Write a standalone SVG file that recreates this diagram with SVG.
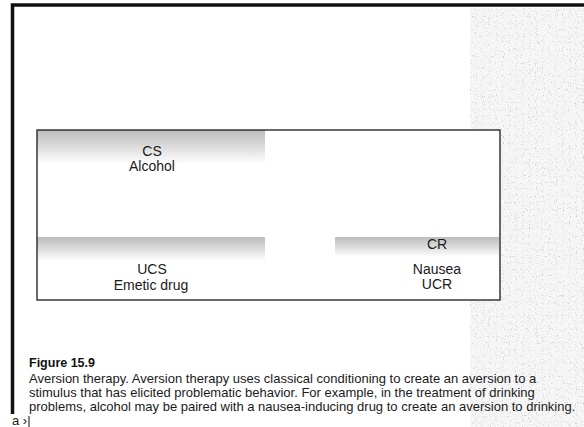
<svg xmlns="http://www.w3.org/2000/svg" width="584" height="427" viewBox="0 0 584 427">
  <style>
    .lbl { font-family: "Liberation Sans", Arial, sans-serif; font-size: 14px; fill: #1a1a1a; text-anchor: middle; }
    .cap { font-family: "Liberation Sans", Arial, sans-serif; font-size: 13px; fill: #1a1a1a; }
    .capb { font-family: "Liberation Sans", Arial, sans-serif; font-size: 12.5px; font-weight: bold; fill: #111; }
  </style>
  <defs>
    <linearGradient id="bandFade" x1="0" y1="0" x2="0" y2="1">
      <stop offset="0" stop-color="#bcbcbc"/>
      <stop offset="0.55" stop-color="#e0e0e0"/>
      <stop offset="1" stop-color="#ffffff"/>
    </linearGradient>
    <filter id="grain" x="0" y="0" width="100%" height="100%">
      <feTurbulence type="fractalNoise" baseFrequency="0.85" numOctaves="1" seed="4" result="n"/>
      <feColorMatrix in="n" type="matrix" values="0 0 0 0 0.5  0 0 0 0 0.5  0 0 0 0 0.5  4 0 0 0 -2.35"/>
    </filter>
  </defs>

  <!-- page -->
  <rect width="584" height="427" fill="#ffffff"/>
  <rect x="470" y="8" width="114" height="419" fill="#f6f6f6"/>
  <rect x="470" y="8" width="114" height="419" filter="url(#grain)"/>

  <!-- page frame -->
  <path d="M12.5 414 V5 H584" fill="none" stroke="#111" stroke-width="3.5"/>

  <!-- diagram panel -->
  <g id="panel">
    <rect x="37" y="130" width="463" height="170" fill="#ffffff"/>
    <rect x="37" y="130" width="228" height="34" fill="url(#bandFade)"/>
    <rect x="37" y="237" width="228" height="24" fill="url(#bandFade)"/>
    <rect x="335" y="237" width="164" height="20" fill="url(#bandFade)"/>
    <rect x="37" y="130" width="463" height="170" fill="none" stroke="#2a2a2a" stroke-width="1.4"/>
  </g>

  <g id="cs">
    <text class="lbl" x="152" y="156">CS</text>
    <text class="lbl" x="152" y="171">Alcohol</text>
  </g>
  <g id="ucs">
    <text class="lbl" x="152" y="274">UCS</text>
    <text class="lbl" x="151" y="290">Emetic drug</text>
  </g>
  <g id="cr">
    <text class="lbl" x="437" y="249">CR</text>
    <text class="lbl" x="437" y="274">Nausea</text>
    <text class="lbl" x="437" y="289">UCR</text>
  </g>
  <g id="connectors"></g>

  <!-- caption -->
  <g id="caption">
    <text class="capb" x="29" y="367">Figure 15.9</text>
    <text class="cap" x="29" y="383">Aversion therapy. Aversion therapy uses classical conditioning to create an aversion to a</text>
    <text class="cap" x="29" y="397">stimulus that has elicited problematic behavior. For example, in the treatment of drinking</text>
    <text class="cap" x="29" y="411">problems, alcohol may be paired with a nausea-inducing drug to create an aversion to drinking.</text>
    <text class="cap" x="12" y="425" font-size="9">a ›|</text>
  </g>
</svg>
